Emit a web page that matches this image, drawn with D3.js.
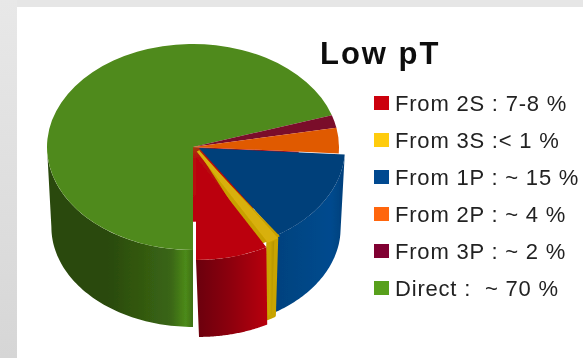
<!DOCTYPE html>
<html><head><meta charset="utf-8">
<script src="https://cdnjs.cloudflare.com/ajax/libs/d3/7.8.5/d3.min.js"></script>
<style>html,body{margin:0;padding:0;background:#fff;overflow:hidden}svg{display:block}
text{font-family:"Liberation Sans",Arial,sans-serif}</style></head><body>
<div id="chart"></div>
<script>
const categories = ["From 2S","From 3S","From 1P","From 2P","From 3P","Direct"];
const values = [8,1,15,4,2,70];
const legendLabels = ["From 2S : 7-8 %","From 3S :< 1 %","From 1P : ~ 15 %","From 2P : ~ 4 %","From 3P : ~ 2 %","Direct :  ~ 70 %"];
const topColors = ["#bb0008","#d8b008","#003f7a","#e05a06","#7a0a2a","#508a1a"];
const swatchColors = ["#cc0010","#ffcc11","#004a90","#ff6611","#800030","#58a01c"];
const explodeX = [3,5,6,0,0,0];
const explodeY = [10,4,1,0,0,0];
const wallShift = [3,0,0,0,0,0];
const title = "Low pT";

const W=583,H=358,cx=193,cy=147,rx=146,ry=103,depth=80,taper=0.97;
const svg=d3.select("#chart").append("svg").attr("width",W).attr("height",H);
const defs=svg.append("defs");
const blur=defs.append("filter").attr("id","b").attr("x","-5%").attr("y","-5%").attr("width","110%").attr("height","110%");
blur.append("feGaussianBlur").attr("stdDeviation",0.55);
function grad(id,stops){
  const g=defs.append("linearGradient").attr("id",id);
  stops.forEach(s=>g.append("stop").attr("offset",s[0]).attr("stop-color",s[1]));
  return g;
}
grad("bgLeft",[[0,"#e8e8e8"],[1,"#d6d6d6"]]).attr("x1",0).attr("x2",0).attr("y1",0).attr("y2",1);
grad("wall5",[[0,"#2a4a0c"],[0.42,"#2a4a0c"],[0.85,"#3a6614"],[0.95,"#4c8a1a"],[1,"#3f7016"]]);
grad("wall0",[[0,"#6a0008"],[0.45,"#8a000a"],[1,"#b80010"]]);
grad("wall1",[[0,"#e0b808"],[1,"#a88a00"]]);
grad("wall2",[[0,"#00427e"],[0.8,"#004a8e"],[1,"#003f7a"]]);
const hole=defs.append("radialGradient").attr("id","hole").attr("gradientUnits","userSpaceOnUse").attr("cx",0).attr("cy",0).attr("r",106);
hole.append("stop").attr("offset",0).attr("stop-color","#a04010");
hole.append("stop").attr("offset",0.15).attr("stop-color","#b81008");
hole.append("stop").attr("offset",1).attr("stop-color","#bb0008");

const g=svg.append("g").attr("filter","url(#b)");
g.append("rect").attr("width",W).attr("height",H).attr("fill","#fff");
g.append("rect").attr("width",W).attr("height",7).attr("fill","#e6e6e6");
g.append("rect").attr("width",17).attr("height",H).attr("fill","url(#bgLeft)");

const slices=d3.pie().sort(null).startAngle(Math.PI).endAngle(-Math.PI)(values);
const arc=d3.arc().innerRadius(0).outerRadius(rx);

function drawWall(i){
  const s=slices[i];
  const area=d3.area()
    .x0(d=>rx*Math.sin(d))
    .x1(d=>rx*taper*Math.sin(d)+wallShift[i])
    .y0(d=>-ry*Math.cos(d))
    .y1(d=>-ry*taper*Math.cos(d)+depth);
  const a0=Math.min(s.startAngle,s.endAngle),a1=Math.max(s.startAngle,s.endAngle);
  [[Math.PI/2,Math.PI*1.5],[-Math.PI*1.5,-Math.PI/2]].forEach(r=>{
    const lo=Math.max(a0,r[0]),hi=Math.min(a1,r[1]);
    if(hi<=lo) return;
    const pts=d3.range(0,61).map(k=>lo+(hi-lo)*k/60);
    g.append("path").attr("transform",`translate(${cx+explodeX[i]},${cy+explodeY[i]})`)
      .attr("d",area(pts)).attr("fill",[0,1,2,5].includes(i)?`url(#wall${i})`:topColors[i])
      .attr("stroke",i===1?"#c8a400":"none").attr("stroke-width",4).attr("stroke-linejoin","round");
  });
}
function drawTop(i){
  const p=g.append("path").attr("transform",`translate(${cx+explodeX[i]},${cy+explodeY[i]}) scale(1,${ry/rx})`)
    .attr("d",arc(slices[i])).attr("fill",topColors[i]);
  if(i===1) p.attr("stroke",topColors[i]).attr("stroke-width",3);
}
[5,4,3].forEach(i=>{drawWall(i);drawTop(i);});
// the cut left behind by the pulled-out slices
g.append("path").attr("transform",`translate(${cx},${cy}) scale(1,${ry/rx})`)
  .attr("d",d3.arc().innerRadius(0).outerRadius(106)({startAngle:slices[0].startAngle,endAngle:slices[2].endAngle}))
  .attr("fill","url(#hole)");
drawWall(2);drawTop(2);
drawWall(1);
// gold radial faces of the thin slice, closing the seams to its neighbours
g.append("path").attr("transform",`translate(${cx+explodeX[1]},${cy+explodeY[1]}) scale(1,${ry/rx})`)
  .attr("d",arc({startAngle:slices[1].startAngle+0.08,endAngle:slices[1].endAngle-0.03}))
  .attr("fill","#c8a000");
drawTop(1);
drawWall(0);drawTop(0);

g.append("text").attr("x",320).attr("y",64).attr("font-size",31).attr("font-weight","bold").attr("fill","#111").attr("letter-spacing",2).text(title);
const rowY=d3.scalePoint().domain(categories).range([103,288]);
const lg=g.selectAll("g.l").data(categories).join("g").attr("class","l").attr("transform",d=>`translate(374,${rowY(d)})`);
lg.append("rect").attr("y",-7).attr("width",15).attr("height",14).attr("fill",(d,i)=>swatchColors[i]);
lg.append("text").attr("x",21).attr("y",8).attr("font-size",22).attr("letter-spacing",0.8).attr("fill","#222").style("white-space","pre").text((d,i)=>legendLabels[i]);
</script></body></html>
